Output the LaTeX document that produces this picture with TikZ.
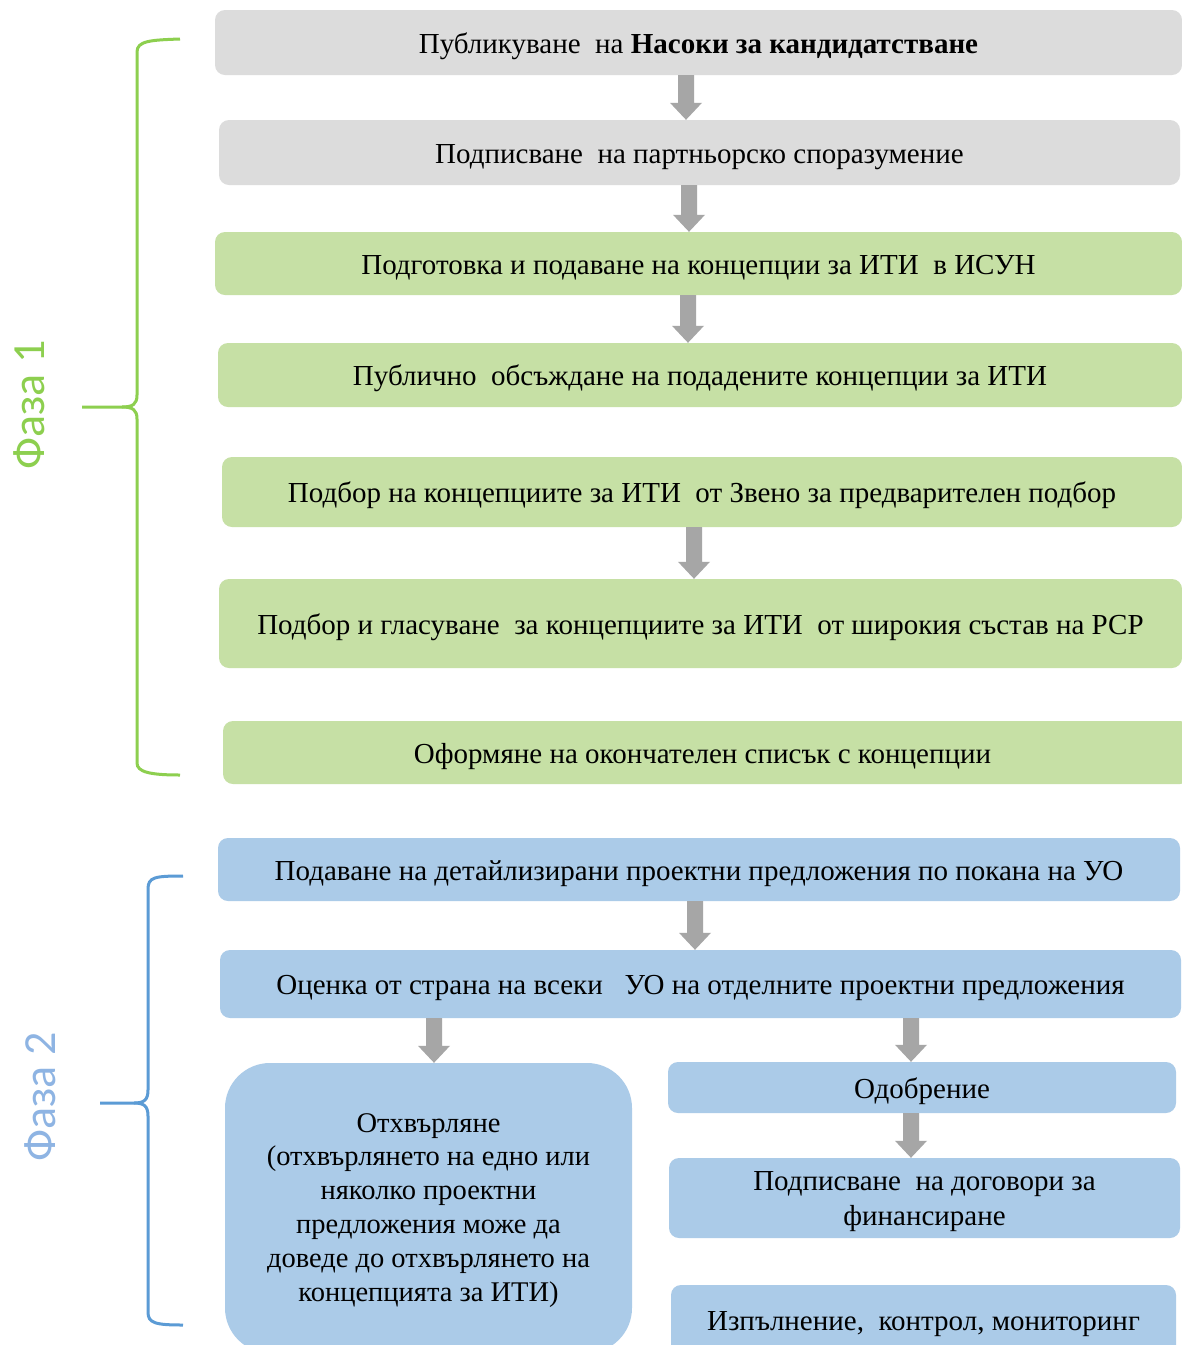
\documentclass[tikz,border=0pt]{standalone}
\usepackage{fontspec}
\setmainfont{Liberation Serif}
\newfontfamily\phasefont{Carlito}
\usetikzlibrary{calc}
\definecolor{boxgray}{HTML}{DCDCDC}
\definecolor{boxgreen}{HTML}{C6E0A5}
\definecolor{boxblue}{HTML}{ABCBE8}
\definecolor{arrgray}{HTML}{A6A6A6}
\definecolor{bracegreen}{HTML}{8DCF4F}
\definecolor{braceblue}{HTML}{5B9BD5}
\definecolor{phasetwo}{HTML}{8EB4E3}
\tikzset{
  stepbox/.style={rectangle, rounded corners=10pt, inner sep=0pt, text=black, align=center,
    font=\fontsize{29}{35}\selectfont, text height=27pt, text depth=6pt},
  graybox/.style={stepbox, fill=boxgray},
  greenbox/.style={stepbox, fill=boxgreen},
  bluebox/.style={stepbox, fill=boxblue},
  bracegr/.style={draw=bracegreen, line width=3pt},
  bracebl/.style={draw=braceblue, line width=3pt},
  phaselabel/.style={rotate=90, font=\phasefont\fontsize{46}{50}\selectfont, inner sep=0pt}
}
% #1 from node, #2 to node, #3 x position (px)
\newcommand{\blockarrow}[3]{%
  \fill[arrgray] let \p1=(#1.south), \p2=(#2.north) in
    (#3pt-8pt,\y1) -- (#3pt+8pt,\y1) -- (#3pt+8pt,\y2+17pt) -- (#3pt+16pt,\y2+17pt)
    -- (#3pt,\y2) -- (#3pt-16pt,\y2+17pt) -- (#3pt-8pt,\y2+17pt) -- cycle;}
\begin{document}
\begin{tikzpicture}[x=1pt,y=-1pt]
\useasboundingbox (0,0) rectangle (1182,1345);
\clip (0,0) rectangle (1182,1345);
\fill[white] (0,0) rectangle (1182,1345);
% Phase 1
\node[graybox, minimum width=967pt, minimum height=65pt] (b1) at (698.5,42.5)
  {Публикуване\ \ на \textbf{Насоки за кандидатстване}};
\node[graybox, minimum width=961pt, minimum height=65pt] (b2) at (699.5,152.5)
  {Подписване\ \ на партньорско споразумение};
\node[greenbox, minimum width=967pt, minimum height=63pt] (b3) at (698.5,263.5)
  {Подготовка и подаване на концепции за ИТИ\ \ в ИСУН};
\node[greenbox, minimum width=964pt, minimum height=64pt] (b4) at (700,375)
  {Публично\ \ обсъждане на подадените концепции за ИТИ};
\node[greenbox, minimum width=960pt, minimum height=70pt] (b5) at (702,492)
  {Подбор на концепциите за ИТИ\ \ от Звено за предварителен подбор};
\node[greenbox, minimum width=963pt, minimum height=89pt] (b6) at (700.5,623.5)
  {Подбор и гласуване\ \ за концепциите за ИТИ\ \ от широкия състав на РСР};
\node[greenbox, minimum width=967pt, minimum height=63pt] (b7) at (706.5,752.5)
  {\hspace*{-8pt}Оформяне на окончателен списък с концепции};
% Phase 2
\node[bluebox, minimum width=962pt, minimum height=63pt] (b8) at (699,869.5)
  {Подаване на детайлизирани проектни предложения по покана на УО};
\node[bluebox, minimum width=961pt, minimum height=68pt] (b9) at (700.5,984)
  {Оценка от страна на всеки\ \ \ УО на отделните проектни предложения};
\node[bluebox, rounded corners=45pt, minimum width=407pt, minimum height=290pt,
  font=\fontsize{28.5}{33.8}\selectfont, text height=192pt, text depth=6pt] (b10) at (428.5,1208)
  {Отхвърляне\\(отхвърлянето на едно или\\няколко проектни\\предложения може да\\доведе до отхвърлянето на\\концепцията за ИТИ)};
\node[bluebox, minimum width=508pt, minimum height=51pt] (b11) at (922,1087.5) {Одобрение};
\node[bluebox, minimum width=511pt, minimum height=80pt, text height=60pt, text depth=6pt] (b12) at (924.5,1198)
  {Подписване\ \ на договори за\\финансиране};
\node[bluebox, minimum width=505pt, minimum height=70pt] (b13) at (923.5,1320)
  {Изпълнение,\ \ контрол, мониторинг};
% arrows
\blockarrow{b1}{b2}{686}
\blockarrow{b2}{b3}{689}
\blockarrow{b3}{b4}{688}
\blockarrow{b5}{b6}{694}
\blockarrow{b8}{b9}{695}
\blockarrow{b9}{b10}{434}
\blockarrow{b9}{b11}{911}
\blockarrow{b11}{b12}{911}
% braces
\draw[bracegr] (180,39) .. controls (150,40) and (137,41) .. (137,52) -- (137,395)
  .. controls (137,404) and (133,407) .. (122,407) -- (82,407);
\draw[bracegr] (122,407) .. controls (133,407) and (137,410) .. (137,419) -- (137,763)
  .. controls (137,772) and (150,775) .. (180,775);
\draw[bracebl] (183,876) .. controls (155,876) and (148,877) .. (148,889) -- (148,1090)
  .. controls (148,1100) and (144,1103) .. (134,1103) -- (100,1103);
\draw[bracebl] (134,1103) .. controls (144,1103) and (148,1106) .. (148,1116) -- (148,1312)
  .. controls (148,1323) and (155,1325) .. (183,1325);
\node[phaselabel, text=bracegreen] (p1) at (29,405) {Фаза 1};
\node[phaselabel, text=phasetwo] (p2) at (40,1097) {Фаза 2};
\end{tikzpicture}
\end{document}
